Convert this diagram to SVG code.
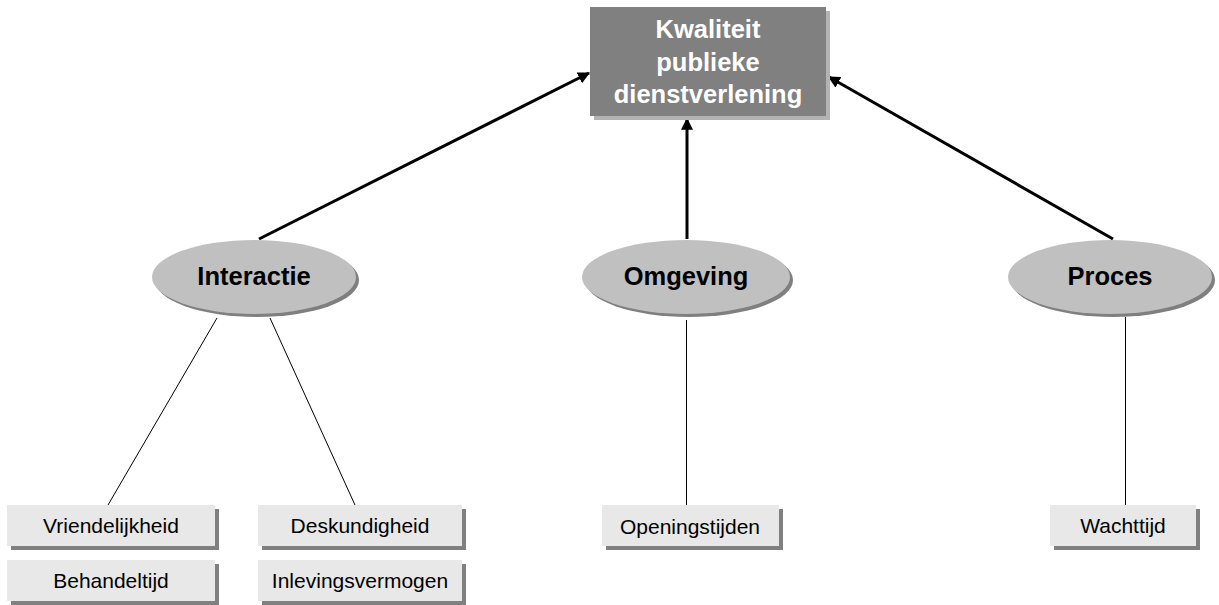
<svg xmlns="http://www.w3.org/2000/svg" width="1219" height="605" viewBox="0 0 1219 605">
<style>
.bold{font-family:"Liberation Sans",Arial,sans-serif;font-weight:bold;font-size:25.5px;text-anchor:middle}
.reg{font-family:"Liberation Sans",Arial,sans-serif;font-size:21px;text-anchor:middle;fill:#000}
.box{fill:#e8e8e8}
.bshadow{fill:#808080}
.ell{fill:#c0c0c0}
.eshadow{fill:#7f7f7f}
.thick{stroke:#000;stroke-width:3;fill:none;marker-end:url(#arr)}
.thin{stroke:#000;stroke-width:1;fill:none}
</style>
<defs>
<marker id="arr" viewBox="0 0 10 10" refX="9" refY="5" markerWidth="4" markerHeight="4" orient="auto" markerUnits="strokeWidth">
<path d="M0,0 L10,5 L0,10 z" fill="#000"/>
</marker>
</defs>
<rect width="1219" height="605" fill="#fff"/>
<g id="connectors">
<line class="thick" x1="259" y1="239" x2="589" y2="73"/>
<line class="thick" x1="687" y1="239" x2="687" y2="119"/>
<line class="thick" x1="1113" y1="239" x2="829" y2="77"/>
<line class="thin" x1="217" y1="318" x2="108" y2="505"/>
<line class="thin" x1="270" y1="318" x2="355" y2="505"/>
<line class="thin" x1="686.5" y1="320" x2="686.5" y2="505"/>
<line class="thin" x1="1125.5" y1="317" x2="1125.5" y2="505"/>
</g>
<g id="kwaliteit">
<rect x="594" y="11" width="236" height="109" fill="#b3b3b3"/>
<rect x="590" y="7" width="236" height="109" fill="#808080"/>
<text class="bold" fill="#fff" x="708" y="38">Kwaliteit</text>
<text class="bold" fill="#fff" x="708" y="71">publieke</text>
<text class="bold" fill="#fff" x="708" y="103">dienstverlening</text>
</g>
<g id="interactie">
<ellipse class="eshadow" cx="257" cy="280" rx="102" ry="37"/>
<ellipse class="ell" cx="254" cy="277" rx="102" ry="37"/>
<text class="bold" x="254" y="285">Interactie</text>
</g>
<g id="omgeving">
<ellipse class="eshadow" cx="689" cy="280" rx="104" ry="37"/>
<ellipse class="ell" cx="686" cy="277" rx="104" ry="37"/>
<text class="bold" x="686" y="285">Omgeving</text>
</g>
<g id="proces">
<ellipse class="eshadow" cx="1113" cy="280" rx="102" ry="37"/>
<ellipse class="ell" cx="1110" cy="277" rx="102" ry="37"/>
<text class="bold" x="1110" y="285">Proces</text>
</g>
<g id="vriendelijkheid">
<rect class="bshadow" x="11" y="509" width="208" height="41"/>
<rect class="box" x="7" y="505" width="208" height="41"/>
<text class="reg" x="111" y="533">Vriendelijkheid</text>
</g>
<g id="behandeltijd">
<rect class="bshadow" x="11" y="564" width="208" height="41"/>
<rect class="box" x="7" y="560" width="208" height="41"/>
<text class="reg" x="111" y="588">Behandeltijd</text>
</g>
<g id="deskundigheid">
<rect class="bshadow" x="262" y="509" width="204" height="41"/>
<rect class="box" x="258" y="505" width="204" height="41"/>
<text class="reg" x="360" y="533">Deskundigheid</text>
</g>
<g id="inlevingsvermogen">
<rect class="bshadow" x="262" y="564" width="204" height="41"/>
<rect class="box" x="258" y="560" width="204" height="41"/>
<text class="reg" x="360" y="588">Inlevingsvermogen</text>
</g>
<g id="openingstijden">
<rect class="bshadow" x="606" y="509" width="177" height="41"/>
<rect class="box" x="602" y="505" width="177" height="41"/>
<text class="reg" x="690" y="534">Openingstijden</text>
</g>
<g id="wachttijd">
<rect class="bshadow" x="1054" y="509" width="146" height="41"/>
<rect class="box" x="1050" y="505" width="146" height="41"/>
<text class="reg" x="1123" y="533">Wachttijd</text>
</g>
</svg>
